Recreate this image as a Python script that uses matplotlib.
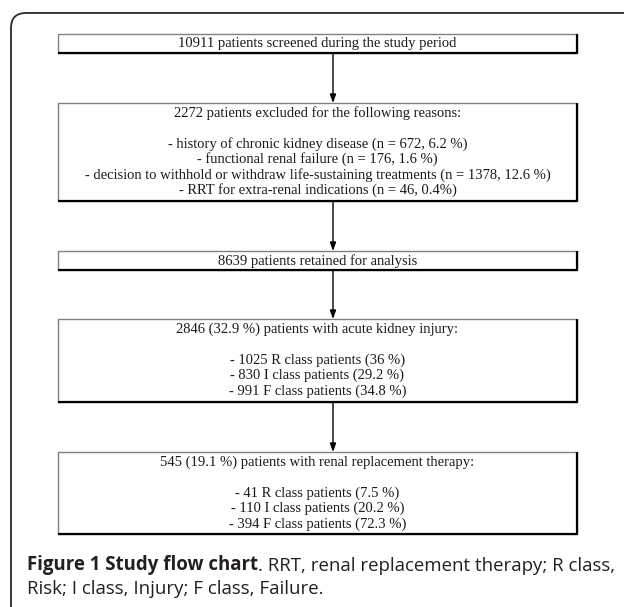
import matplotlib.pyplot as plt
from matplotlib.patches import FancyBboxPatch, Rectangle

# text of the five boxes, top to bottom ("" = blank line)
screened = ["10911 patients screened during the study period"]
excluded = ["2272 patients excluded for the following reasons:",
            "",
            "- history of chronic kidney disease (n = 672, 6.2 %)",
            "- functional renal failure (n = 176, 1.6 %)",
            "- decision to withhold or withdraw life-sustaining treatments (n = 1378, 12.6 %)",
            "- RRT for extra-renal indications (n = 46, 0.4%)"]
retained = ["8639 patients retained for analysis"]
aki = ["2846 (32.9 %) patients with acute kidney injury:",
       "",
       "- 1025 R class patients (36 %)",
       "- 830 I class patients (29.2 %)",
       "- 991 F class patients (34.8 %)"]
rrt = ["545 (19.1 %) patients with renal replacement therapy:",
       "",
       "- 41 R class patients (7.5 %)",
       "- 110 I class patients (20.2 %)",
       "- 394 F class patients (72.3 %)"]
boxes = [screened, excluded, retained, aki, rrt]

caption_bold = "Figure 1 Study flow chart"
caption_rest = ". RRT, renal replacement therapy; R class,"
caption_line2 = "Risk; I class, Injury; F class, Failure."

# layout in pixels (y grows downwards)
box_left, box_right = 58, 577
box_top = [34, 103, 251, 319, 452]
box_bottom = [53, 201, 270, 402, 534]
arrow_x = 333
line_step = 15.5

fig = plt.figure(figsize=(6.24, 6.07), dpi=100)
ax = fig.add_axes([0, 0, 1, 1])
ax.set_xlim(0, 624)
ax.set_ylim(607, 0)
ax.axis('off')

# outer rounded frame (runs off the right and bottom edge)
frame = FancyBboxPatch((11, 13), 640, 620, boxstyle="round,pad=0,rounding_size=15",
                       fc='none', ec='#2a2a2a', lw=1.3)
ax.add_patch(frame)

for lines, top, bottom in zip(boxes, box_top, box_bottom):
    ax.add_patch(Rectangle((box_left, top), box_right - box_left, bottom - top,
                           fc='white', ec='#808080', lw=1.0))
    # darker right/bottom edge
    ax.plot([box_right, box_right, box_left], [top, bottom, bottom],
            color='black', lw=1.6, solid_capstyle='butt')
    cx = (box_left + box_right) / 2
    for i, line in enumerate(lines):
        if line:
            ax.text(cx, top + 10 + i * line_step, line, ha='center', va='center',
                    family='Liberation Serif', fontsize=10.5, color='#1a1a1a')

# arrows between boxes
for b, t in zip(box_bottom[:-1], box_top[1:]):
    ax.annotate('', xy=(arrow_x, t), xytext=(arrow_x, b),
                arrowprops=dict(arrowstyle='-|>,head_length=0.5,head_width=0.18',
                                mutation_scale=10, color='black', lw=1.0,
                                shrinkA=0, shrinkB=0))

# caption
cap = ax.text(27, 570, caption_bold, ha='left', va='baseline', family='Open Sans',
              fontweight='bold', fontsize=13.4, color='#231f20')
ax.annotate(caption_rest, xy=(1, 0), xycoords=cap, ha='left', va='bottom',
            family='Open Sans', fontsize=13.4, color='#231f20')
ax.text(27, 594, caption_line2, ha='left', va='baseline', family='Open Sans',
        fontsize=13.4, color='#231f20')

fig.savefig('out.png', dpi=100)
